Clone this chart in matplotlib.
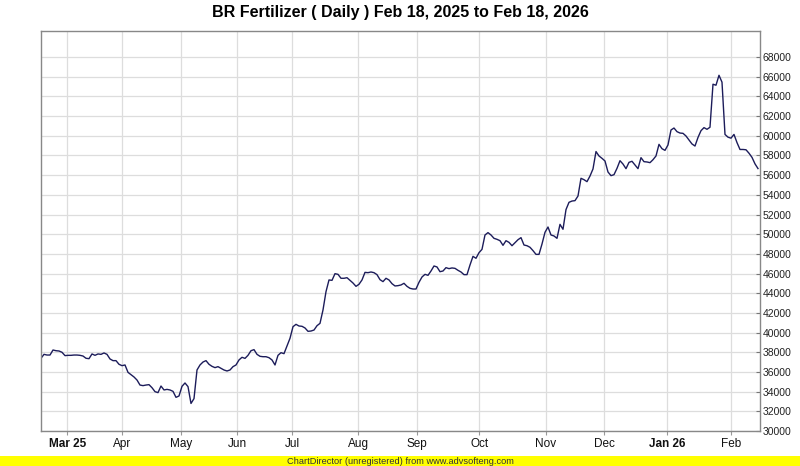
import matplotlib
matplotlib.use("Agg")
import matplotlib.pyplot as plt
from matplotlib.patches import Rectangle
from matplotlib import font_manager as fm

# ---------------- data ----------------
title = "BR Fertilizer ( Daily ) Feb 18, 2025 to Feb 18, 2026"
footer = "ChartDirector (unregistered) from www.advsofteng.com"

month_labels = ["Mar 25", "Apr", "May", "Jun", "Jul", "Aug", "Sep", "Oct",
                "Nov", "Dec", "Jan 26", "Feb"]
month_bold = [True, False, False, False, False, False, False, False,
              False, False, True, False]
# index (trading-day sample) where each month starts
month_start_idx = [8.8, 27.1, 46.6, 65.4, 83.8, 105.8, 125.2, 146.1,
                   168.2, 187.7, 208.6, 229.9]

# price in thousands, one sample per ~trading day
seg_feb_apr = [37.39, 37.79, 37.72, 37.72, 38.23, 38.16, 38.13, 38.00, 37.66, 37.69,
               37.69, 37.72, 37.72, 37.69, 37.62, 37.39, 37.35, 37.83, 37.69, 37.83,
               37.79, 37.93, 37.79, 37.32, 37.15, 37.15, 36.78, 36.64, 36.71, 35.96,
               35.72, 35.49, 35.18, 34.67, 34.61, 34.67, 34.71, 34.40, 34.00, 33.90,
               34.57, 34.17, 34.23]
seg_may_jul = [34.17, 34.03, 33.42, 33.56, 34.54, 34.88, 34.51, 32.80, 33.29, 36.20,
               36.71, 37.01, 37.15, 36.78, 36.57, 36.44, 36.54, 36.37, 36.20, 36.10,
               36.20, 36.54, 36.71, 37.22, 37.49, 37.38, 37.69, 38.16, 38.27, 37.79,
               37.59, 37.55, 37.55, 37.45, 37.22, 36.71, 37.69, 37.96, 37.86, 38.64,
               39.42, 40.60, 40.84, 40.67]
seg_jul_sep = [40.64, 40.47, 40.13, 40.16, 40.26, 40.70, 40.94, 42.30, 44.16, 45.35,
               45.31, 45.99, 45.92, 45.52, 45.52, 45.58, 45.31, 45.04, 44.70, 44.91,
               45.35, 46.12, 46.09, 46.16, 46.09, 45.89, 45.38, 45.18, 45.52, 45.35,
               44.97, 44.74, 44.77, 44.84, 45.01, 44.70, 44.50, 44.43, 44.43, 45.11,
               45.65, 45.92, 45.82]
seg_sep_nov = [46.26, 46.77, 46.67, 46.19, 46.26, 46.60, 46.50, 46.57, 46.53, 46.33,
               46.16, 45.89, 45.89, 46.87, 47.75, 47.55, 48.12, 48.46, 49.92, 50.16,
               49.92, 49.58, 49.48, 49.34, 48.87, 49.34, 49.17, 48.83, 49.14, 49.44,
               49.65, 48.90, 48.83, 48.67, 48.33, 47.95, 47.95, 49.00, 50.19, 50.73,
               49.92, 49.82, 49.58]
seg_nov_jan = [51.00, 50.50, 52.50, 53.24, 53.37, 53.41, 53.88, 55.68, 55.54, 55.34,
               55.91, 56.63, 58.40, 57.95, 57.71, 57.44, 56.32, 55.95, 56.05, 56.69,
               57.47, 57.13, 56.66, 57.30, 57.41, 57.03, 56.66, 57.78, 57.37, 57.34,
               57.27, 57.57, 57.95, 59.13, 58.69, 58.52, 59.07, 60.59, 60.79, 60.42,
               60.28, 60.25, 59.98]
seg_jan_feb = [59.58, 59.17, 58.96, 59.83, 60.52, 60.83, 60.66, 60.87, 65.24, 65.14,
               66.15, 65.45, 60.14, 59.86, 59.76, 60.14, 59.31, 58.61, 58.61, 58.58,
               58.23, 57.81, 57.15, 56.67]

price_k = seg_feb_apr + seg_may_jul + seg_jul_sep + seg_sep_nov + seg_nov_jan + seg_jan_feb
prices = [v * 1000 for v in price_k]
y_ticks = list(range(30000, 68001, 2000))

# ---------------- fonts ----------------
names = {f.name for f in fm.fontManager.ttflist}
narrow = "Liberation Sans Narrow" if "Liberation Sans Narrow" in names else "Liberation Sans"
regular = "Liberation Sans"
title_size = 12 if narrow == "Liberation Sans Narrow" else 11.5

# ---------------- figure ----------------
W, H = 800, 466
fig = plt.figure(figsize=(W / 100, H / 100), dpi=100)
fig.patch.set_facecolor("white")
ax = fig.add_axes([41 / W, 35 / H, 719 / W, 400 / H])

x = list(range(len(prices)))
ax.plot(x, prices, color="#1c1c5a", lw=1.0, solid_joinstyle="round")

ax.set_xlim(0, len(prices) - 0.33)
ax.set_ylim(30000, 70650)

ax.set_yticks(y_ticks)
ax.set_yticklabels([str(t) for t in y_ticks], fontsize=7.5, family=regular, color="#222222")
ax.yaxis.tick_right()
ax.tick_params(axis="y", direction="in", length=3, width=0.8, color="#777777", pad=2)

ax.set_xticks(month_start_idx)
ax.set_xticklabels(month_labels, fontsize=8.5, family=narrow, color="#111111")
for lbl, b in zip(ax.get_xticklabels(), month_bold):
    if b:
        lbl.set_fontweight("bold")
ax.tick_params(axis="x", direction="out", length=3, width=0.8, color="#999999", pad=2)

ax.grid(True, color="#dddddd", lw=0.9)
ax.set_axisbelow(True)
for s in ax.spines.values():
    s.set_color("#888888")
    s.set_linewidth(1.0)

fig.text(0.5, 1 - 13 / H, title, ha="center", va="center", fontsize=title_size,
         fontweight="bold", family=narrow, color="black")

fig.patches.append(Rectangle((0, 0), 1, 10 / H, transform=fig.transFigure,
                             facecolor="#ffff00", edgecolor="none", zorder=0))
fig.text(0.5, 5 / H, footer, ha="center", va="center", fontsize=6.7,
         family=narrow, color="#333333")

fig.savefig("out.png", dpi=100)
